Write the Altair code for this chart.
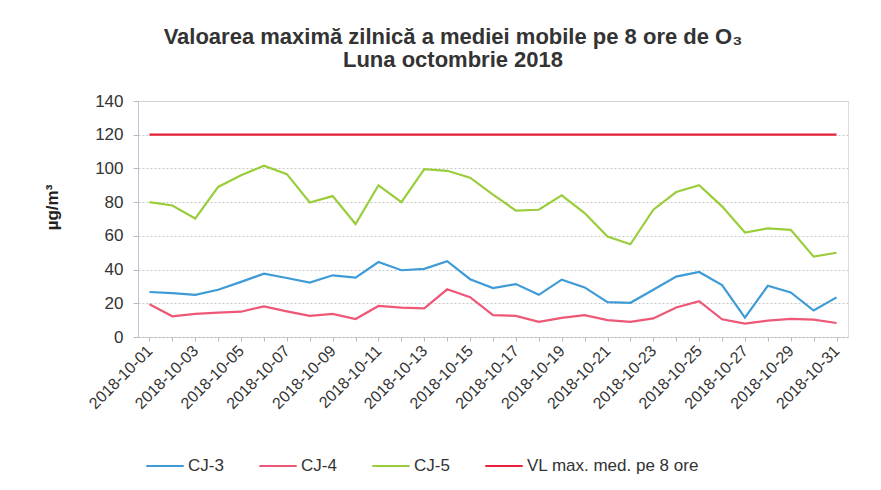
import altair as alt
import pandas as pd

days = ["2018-10-%02d" % d for d in range(1, 32)]

cj3 = [26.7, 26.0, 25.0, 28.0, 32.7, 37.6, 35.0, 32.3, 36.6, 35.2, 44.5, 39.6, 40.4, 45.0, 34.3,
       29.0, 31.4, 25.0, 34.0, 29.4, 20.7, 20.3, 28.0, 35.8, 38.6, 30.8, 11.5, 30.4, 26.4, 15.7, 23.5]
cj4 = [19.4, 12.3, 13.7, 14.5, 15.0, 18.2, 15.2, 12.5, 13.7, 10.7, 18.4, 17.4, 17.0, 28.3, 23.6,
       13.0, 12.5, 9.0, 11.3, 13.0, 10.0, 9.0, 11.0, 17.5, 21.3, 10.5, 8.0, 9.7, 10.7, 10.3, 8.3]
cj5 = [80.0, 78.0, 70.3, 89.0, 96.0, 101.6, 96.6, 79.8, 83.6, 67.0, 90.0, 80.0, 99.6, 98.6, 94.5,
       84.5, 75.0, 75.5, 84.0, 73.5, 59.6, 55.0, 75.5, 86.0, 90.0, 77.5, 62.0, 64.4, 63.6, 47.7, 50.0]
vl = [120] * 31

series_names = ["CJ-3", "CJ-4", "CJ-5", "VL max. med. pe 8 ore"]
series_colors = ["#3E9BD6", "#EE5775", "#9ACD3C", "#E8203A"]
series_widths = [2.2, 2.2, 2.2, 3.6]

rows = []
for name, vals in zip(series_names, [cj3, cj4, cj5, vl]):
    for d, v in zip(days, vals):
        rows.append({"day": d, "series": name, "value": v})
df = pd.DataFrame(rows)

FONT = "Liberation Sans"

chart = alt.Chart(df).mark_line().encode(
    x=alt.X(
        "day:O",
        scale=alt.Scale(type="point", padding=0.5),
        axis=alt.Axis(
            title=None,
            labelAngle=315,
            labelAlign="right",
            labelBaseline="middle",
            labelExpr="toNumber(slice(datum.value, 8)) % 2 == 1 ? datum.value : ''",
            labelFontSize=16,
            labelFont=FONT,
            labelColor="#333333",
            labelPadding=7,
            tickSize=4,
            tickColor="#BBBBBB",
            domainColor="#BBBBBB",
            domainDash=[2, 2],
            grid=False,
            labelOverlap=False,
        ),
    ),
    y=alt.Y(
        "value:Q",
        scale=alt.Scale(domain=[0, 140], nice=False),
        axis=alt.Axis(
            values=[0, 20, 40, 60, 80, 100, 120, 140],
            title="µg/m³",
            titleFont=FONT,
            titleFontSize=17,
            titleFontWeight="bold",
            titleColor="#222222",
            titleAngle=270,
            titleX=-86,
            titleY=106,
            titleAlign="center",
            titleBaseline="middle",
            labelFontSize=17,
            labelFont=FONT,
            labelColor="#333333",
            labelPadding=10,
            tickSize=5,
            tickColor="#BBBBBB",
            domainColor="#B8C4DC",
            gridColor="#C8C8C8",
            gridDash=[2, 2],
        ),
    ),
    color=alt.Color(
        "series:N",
        sort=series_names,
        scale=alt.Scale(domain=series_names, range=series_colors),
        legend=alt.Legend(
            title=None,
            orient="none",
            direction="horizontal",
            legendX=7,
            legendY=345,
            symbolType="stroke",
            symbolSize=1400,
            symbolStrokeWidth=2.5,
            labelFont=FONT,
            labelFontSize=17,
            labelColor="#333333",
            labelOffset=3,
            labelLimit=400,
            columnPadding=30,
        ),
    ),
    strokeWidth=alt.StrokeWidth(
        "series:N",
        scale=alt.Scale(domain=series_names, range=series_widths),
        legend=None,
    ),
).properties(
    width=710,
    height=236,
    title=alt.TitleParams(
        text=["Valoarea maximă zilnică a mediei mobile pe 8 ore de O₃", "Luna octombrie 2018"],
        font=FONT,
        fontSize=22,
        fontWeight="bold",
        color="#333333",
        anchor="middle",
        dx=-40,
        offset=20,
        lineHeight=23,
    ),
    autosize=alt.AutoSizeParams(type="none"),
    padding={"left": 130, "top": 93, "right": 25, "bottom": 145},
).configure_view(stroke=None).configure(background="white")

chart.save("out.html", embed_options={"renderer": "svg", "actions": False})
